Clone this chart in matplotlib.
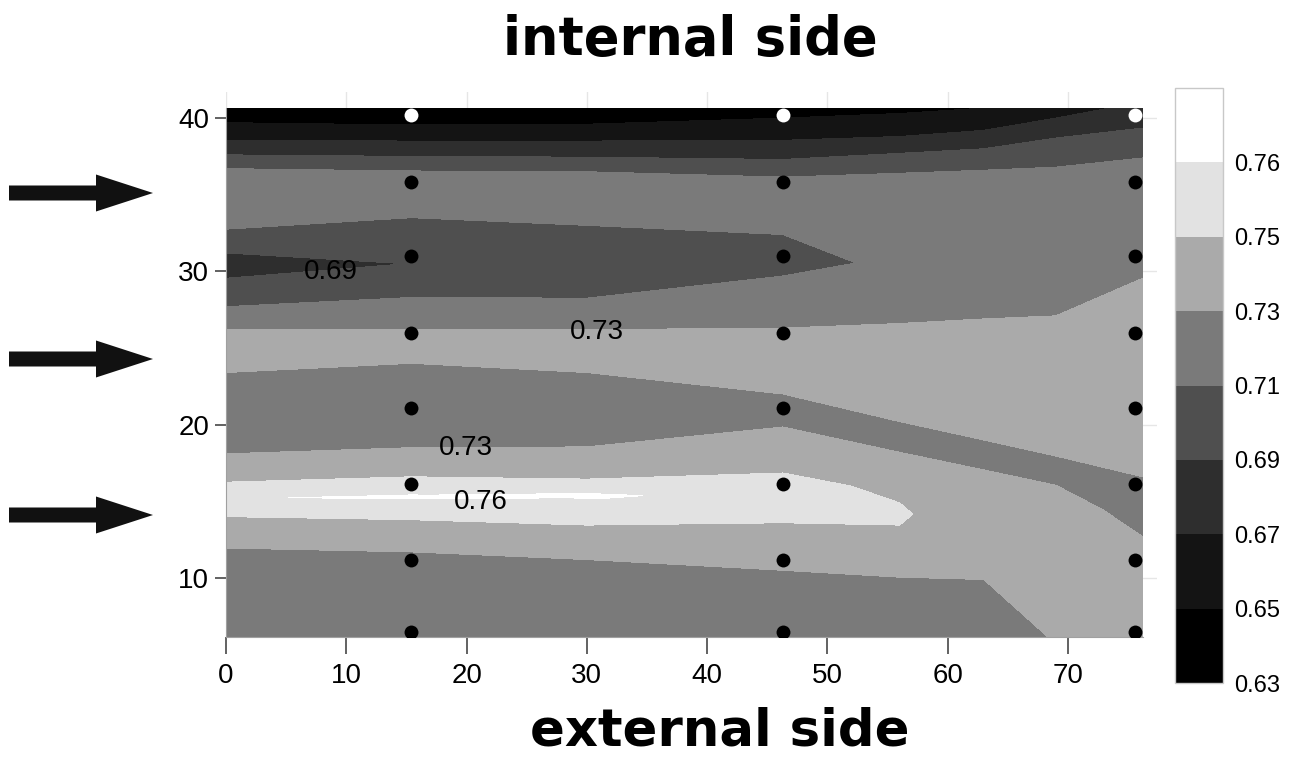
import numpy as np
import matplotlib
matplotlib.use("Agg")
import matplotlib.pyplot as plt
import matplotlib.tri as mtri
from matplotlib.patches import Polygon
from matplotlib import font_manager as fm

W, H, DPI = 1296, 758, 100

# ---------------- data ----------------
# profile of the field along vertical lines at given x: (y, value)
col_x = [0.0, 15.4, 30.0, 46.3, 56.0, 63.0, 69.0, 76.2]

c0_y = [40.65, 39.7, 38.55, 37.6, 36.7, 34.7, 32.75, 31.2, 30.4, 29.55, 27.7, 26.2, 24.8, 23.4, 20.7, 18.1, 16.25, 15.2, 14.0, 11.95, 6.15]
c0_v = [0.632, 0.65, 0.67, 0.69, 0.71, 0.724, 0.71, 0.69, 0.684, 0.69, 0.71, 0.73, 0.742, 0.73, 0.72, 0.73, 0.75, 0.7595, 0.75, 0.73, 0.715]

c1_y = [40.65, 39.55, 38.5, 37.5, 36.55, 35.0, 33.5, 30.5, 28.3, 26.2, 25.1, 24.0, 21.1, 18.5, 16.6, 15.3, 13.8, 11.7, 6.15]
c1_v = [0.639, 0.65, 0.67, 0.69, 0.71, 0.725, 0.71, 0.6902, 0.71, 0.73, 0.741, 0.73, 0.72, 0.73, 0.75, 0.761, 0.75, 0.73, 0.715]

c2_y = [40.65, 39.6, 38.5, 37.45, 36.5, 34.8, 33.0, 30.6, 28.25, 26.2, 24.8, 23.4, 21.0, 18.55, 16.45, 15.4, 13.45, 11.2, 6.15]
c2_v = [0.640, 0.65, 0.67, 0.69, 0.71, 0.724, 0.71, 0.697, 0.71, 0.73, 0.743, 0.73, 0.72, 0.73, 0.75, 0.7612, 0.75, 0.73, 0.716]

c3_y = [40.65, 40.0, 38.55, 37.3, 36.15, 34.3, 32.4, 30.8, 29.7, 26.3, 24.2, 22.0, 20.9, 19.85, 16.85, 15.3, 13.6, 10.5, 6.15]
c3_v = [0.645, 0.65, 0.67, 0.69, 0.71, 0.722, 0.71, 0.70, 0.71, 0.73, 0.745, 0.73, 0.725, 0.73, 0.75, 0.757, 0.75, 0.73, 0.72]

c4_y = [40.65, 40.3, 38.8, 37.7, 36.4, 33.0, 30.4, 26.6, 23.5, 20.2, 19.2, 18.2, 16.5, 14.9, 14.2, 13.45, 10.05, 6.15]
c4_v = [0.646, 0.65, 0.67, 0.69, 0.71, 0.72, 0.716, 0.73, 0.742, 0.73, 0.727, 0.73, 0.745, 0.75, 0.7515, 0.75, 0.73, 0.72]

c5_y = [40.65, 39.2, 38.0, 36.6, 32.0, 26.9, 23.0, 19.0, 18.0, 17.05, 14.0, 9.9, 6.15]
c5_v = [0.65, 0.67, 0.69, 0.71, 0.721, 0.73, 0.74, 0.73, 0.727, 0.73, 0.742, 0.73, 0.722]

c6_y = [40.65, 40.0, 38.7, 36.8, 32.0, 27.1, 22.5, 17.95, 17.0, 16.05, 11.0, 6.15]
c6_v = [0.662, 0.67, 0.69, 0.71, 0.722, 0.73, 0.74, 0.73, 0.727, 0.73, 0.74, 0.731]

c7_y = [40.65, 39.35, 37.4, 33.0, 29.55, 23.0, 16.6, 14.6, 12.7, 6.15]
c7_v = [0.675, 0.69, 0.71, 0.724, 0.73, 0.74, 0.73, 0.726, 0.73, 0.74]

# measurement points
pt_x = [15.4, 46.3, 75.6]
pt_y = [6.5, 11.2, 16.1, 21.1, 26.0, 31.0, 35.8, 40.2]
pt_y_white = 40.2

levels = [0.63, 0.65, 0.67, 0.69, 0.71, 0.73, 0.75, 0.76, 0.77]
cbar_labels = ["0.63", "0.65", "0.67", "0.69", "0.71", "0.73", "0.75", "0.76"]
grays = ["#000000", "#141414", "#2e2e2e", "#4f4f4f", "#7a7a7a", "#aaaaaa", "#e2e2e2", "#ffffff"]

xticks = [0, 10, 20, 30, 40, 50, 60, 70]
yticks = [10, 20, 30, 40]

# contour labels: (x, y, text)
clab_x = [8.7, 30.8, 19.95, 21.2]
clab_y = [29.95, 26.05, 18.5, 14.95]
clab_t = ["0.69", "0.73", "0.73", "0.76"]

# ---------------- fonts ----------------
names = {f.name for f in fm.fontManager.ttflist}
narrow = "Liberation Sans Narrow" if "Liberation Sans Narrow" in names else "Liberation Sans"
plt.rcParams["font.family"] = [narrow, "DejaVu Sans"]

# ---------------- build field ----------------
cols_y = [c0_y, c1_y, c2_y, c3_y, c4_y, c5_y, c6_y, c7_y]
cols_v = [c0_v, c1_v, c2_v, c3_v, c4_v, c5_v, c6_v, c7_v]
X = np.concatenate([[cx] * len(cy) for cx, cy in zip(col_x, cols_y)])
Y = np.concatenate([np.asarray(cy, float) for cy in cols_y])
Z = np.concatenate([np.asarray(cv, float) for cv in cols_v])

tri_scaled = mtri.Triangulation(X / 7.0, Y)
tri = mtri.Triangulation(X, Y, tri_scaled.triangles)

fig = plt.figure(figsize=(W / DPI, H / DPI), dpi=DPI)
ax = fig.add_axes([226 / W, (H - 637) / H, (1157 - 226) / W, (637 - 92) / H])

cs = ax.tricontourf(tri, Z, levels=levels, colors=grays, zorder=1)
cs.set_antialiased(False)

ax.scatter([x for x in pt_x for y in pt_y if y != pt_y_white],
           [y for x in pt_x for y in pt_y if y != pt_y_white],
           s=100, c="black", zorder=3, linewidths=0)
ax.scatter(pt_x, [pt_y_white] * len(pt_x), s=100, c="white", zorder=3, linewidths=0)

for tx, ty, tt in zip(clab_x, clab_y, clab_t):
    ax.text(tx, ty, tt, fontsize=20, ha="center", va="center", color="black", zorder=4)

ax.set_xlim(0, 77.4)
ax.set_ylim(6.15, 41.7)
ax.set_xticks(xticks)
ax.set_yticks(yticks)
ax.grid(True, color="#e6e6e6", linewidth=1.0)
ax.set_axisbelow(True)
for s in ["top", "right"]:
    ax.spines[s].set_visible(False)
ax.spines["left"].set_bounds(6.15, 40.65)
ax.spines["bottom"].set_bounds(0, 76.2)
ax.spines["left"].set_color("#a0a0a0")
ax.spines["bottom"].set_color("#a0a0a0")
ax.tick_params(axis="x", length=12, width=1.3, color="#555555", pad=7, labelsize=20)
ax.tick_params(axis="y", length=8, width=1.3, color="#555555", pad=4, labelsize=20)

# colorbar
cax = fig.add_axes([1175 / W, (H - 683) / H, 48 / W, 595 / H])
cb = fig.colorbar(cs, cax=cax, ticks=levels[:-1])
cb.ax.set_yticklabels(cbar_labels, family="Liberation Sans", fontsize=17)
cb.ax.tick_params(length=0, pad=8)
cb.outline.set_edgecolor("#c8c8c8")
cb.outline.set_linewidth(1.0)

# titles
fig.text(690 / W, 1 - 55 / H, "internal side", fontsize=38, fontweight="bold",
         family="DejaVu Sans", ha="center", va="baseline")
fig.text(720 / W, 1 - 746 / H, "external side", fontsize=37, fontweight="bold",
         family="DejaVu Sans", ha="center", va="baseline")

# arrows on the left (decorations, figure pixel layout)
for cy in [193, 359, 515]:
    pts = [(9, cy - 7.5), (96, cy - 7.5), (96, cy - 18.5), (153, cy),
           (96, cy + 18.5), (96, cy + 7.5), (9, cy + 7.5)]
    fig.add_artist(Polygon([(px / W, 1 - py / H) for px, py in pts], closed=True,
                           transform=fig.transFigure, facecolor="#111111", edgecolor="none"))

fig.savefig("out.png", dpi=DPI)
